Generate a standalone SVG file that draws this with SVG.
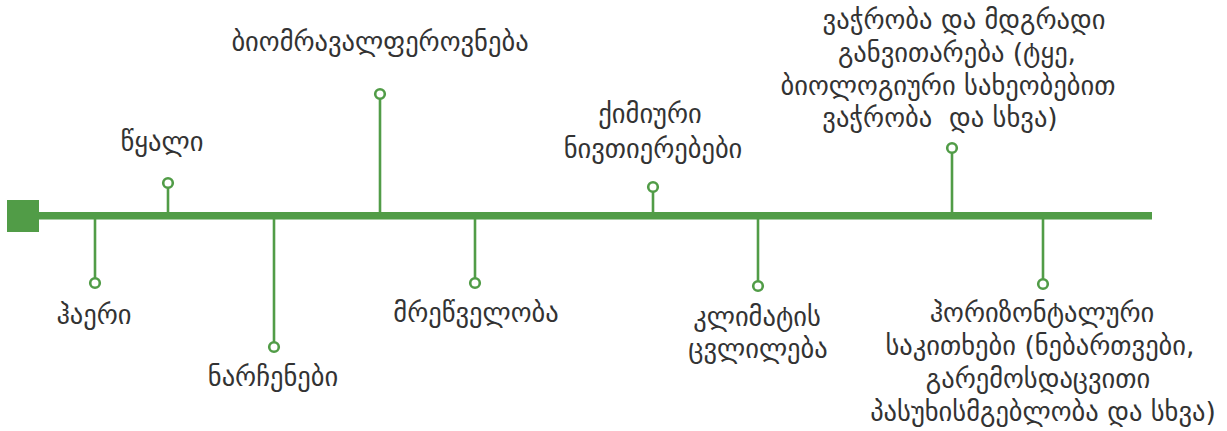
<svg xmlns="http://www.w3.org/2000/svg" width="1227" height="431" viewBox="0 0 1227 431">
<style>
.t{font-family:"DejaVu Sans","Noto Sans",sans-serif;font-size:26.5px;fill:#333;text-anchor:middle}
.stem{stroke:#519c47;stroke-width:2.6;fill:none}
.dot{stroke:#519c47;stroke-width:2.6;fill:#fff}
</style>
<rect width="1227" height="431" fill="#fff"/>
<g id="connectors">
<line x1="95" y1="216" x2="95" y2="283" class="stem"/>
<line x1="168" y1="216" x2="168" y2="183" class="stem"/>
<line x1="274" y1="216" x2="274" y2="347" class="stem"/>
<line x1="380" y1="216" x2="380" y2="94" class="stem"/>
<line x1="475" y1="216" x2="475" y2="283" class="stem"/>
<line x1="653" y1="216" x2="653" y2="187" class="stem"/>
<line x1="758" y1="216" x2="758" y2="286" class="stem"/>
<line x1="952" y1="216" x2="952" y2="148" class="stem"/>
<line x1="1043" y1="216" x2="1043" y2="284" class="stem"/>
</g>
<g id="axis">
<rect x="7" y="200" width="32" height="32" fill="#519c47"/>
<rect x="38" y="212" width="1114" height="7.5" fill="#519c47"/>
</g>
<g id="n1"><circle cx="95" cy="283" r="4.8" class="dot"/><text class="t" x="94" y="324">ჰაერი</text></g>
<g id="n2"><circle cx="168" cy="183" r="4.8" class="dot"/><text class="t" x="162" y="151">წყალი</text></g>
<g id="n3"><circle cx="274" cy="347" r="4.8" class="dot"/><text class="t" x="273" y="386">ნარჩენები</text></g>
<g id="n4"><circle cx="380" cy="94" r="4.8" class="dot"/><text class="t" x="380" y="51">ბიომრავალფეროვნება</text></g>
<g id="n5"><circle cx="475" cy="283" r="4.8" class="dot"/><text class="t" x="476" y="322">მრეწველობა</text></g>
<g id="n6"><circle cx="653" cy="187" r="4.8" class="dot"/><text class="t" x="650" y="123">ქიმიური</text><text class="t" x="653" y="158">ნივთიერებები</text></g>
<g id="n7"><circle cx="758" cy="286" r="4.8" class="dot"/><text class="t" x="757" y="326">კლიმატის</text><text class="t" x="758" y="358">ცვლილება</text></g>
<g id="n8"><circle cx="952" cy="148" r="4.8" class="dot"/><text class="t" x="964" y="29">ვაჭრობა და მდგრადი</text><text class="t" x="957" y="62">განვითარება (ტყე,</text><text class="t" x="948" y="95">ბიოლოგიური სახეობებით</text><text class="t" x="940" y="127" xml:space="preserve">ვაჭრობა  და სხვა)</text></g>
<g id="n9"><circle cx="1043" cy="284" r="4.8" class="dot"/><text class="t" x="1042" y="322">ჰორიზონტალური</text><text class="t" x="1040" y="355">საკითხები (ნებართვები,</text><text class="t" x="1038" y="388">გარემოსდაცვითი</text><text class="t" x="1043" y="421">პასუხისმგებლობა და სხვა)</text></g>
</svg>
